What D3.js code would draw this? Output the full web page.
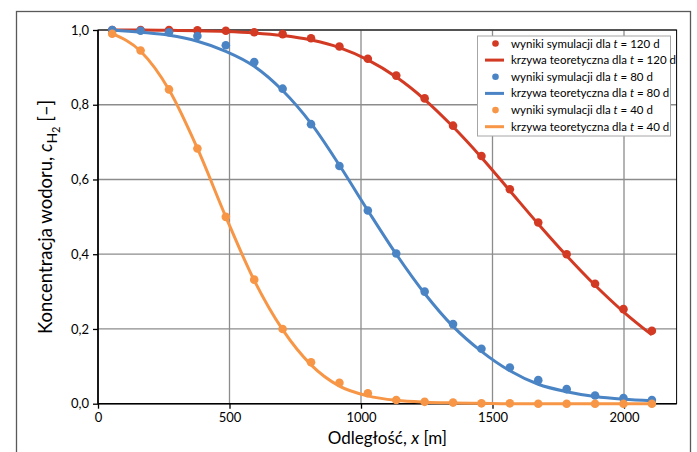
<!DOCTYPE html>
<html>
<head>
<meta charset="utf-8">
<script src="https://cdn.jsdelivr.net/npm/d3@7"></script>
<style>
  body { margin: 0; background: #fff; }
  svg { display: block; font-family: Lato, "Open Sans", sans-serif; }
</style>
</head>
<body>
<div id="chart"></div>
<script>
// distance of the cell centres [m]
var xPos = [54, 162, 270, 378, 486, 594, 702, 810, 918, 1026,
            1134, 1242, 1350, 1458, 1566, 1674, 1782, 1890, 1998, 2106];

// t = 120 d
var sim120 = [1.000, 1.000, 1.000, 0.999, 0.998, 0.994, 0.989, 0.978, 0.956, 0.923,
              0.878, 0.817, 0.744, 0.663, 0.574, 0.485, 0.400, 0.321, 0.253, 0.195];
var theo120 = [1.000, 1.000, 0.999, 0.998, 0.996, 0.992, 0.985, 0.973, 0.953, 0.920,
               0.874, 0.814, 0.741, 0.659, 0.570, 0.481, 0.396, 0.317, 0.246, 0.184];
// t = 80 d
var sim80 = [1.000, 0.998, 0.994, 0.984, 0.959, 0.914, 0.843, 0.748, 0.636, 0.517,
             0.402, 0.300, 0.213, 0.147, 0.097, 0.063, 0.039, 0.022, 0.015, 0.010];
var theo80 = [1.000, 0.994, 0.986, 0.970, 0.943, 0.903, 0.838, 0.750, 0.638, 0.517,
              0.400, 0.295, 0.207, 0.140, 0.088, 0.052, 0.032, 0.019, 0.012, 0.008];
// t = 40 d
var sim40 = [0.990, 0.945, 0.841, 0.683, 0.500, 0.332, 0.200, 0.111, 0.056, 0.028,
             0.010, 0.005, 0.003, 0.001, 0.001, 0.000, 0.000, 0.000, 0.000, 0.000];
var theo40 = [0.990, 0.943, 0.840, 0.683, 0.500, 0.330, 0.198, 0.104, 0.047, 0.021,
              0.009, 0.004, 0.002, 0.001, 0.000, 0.000, 0.000, 0.000, 0.000, 0.000];

var xTicks = [0, 500, 1000, 1500, 2000];
var yTicks = [0, 0.2, 0.4, 0.6, 0.8, 1.0];
var times = ['120', '80', '40'];
var colors = ['#d33a24', '#4a84c4', '#f79646'];

var width = 697, height = 452;
var margin = { left: 98, top: 30, right: 20.4, bottom: 48.3 };

var svg = d3.select('#chart').append('svg')
  .attr('width', width)
  .attr('height', height);

// outer frame of the chart area
svg.append('rect')
  .attr('x', 16.5).attr('y', 11.5)
  .attr('width', 674).attr('height', 460)
  .attr('fill', 'none')
  .attr('stroke', '#595959')
  .attr('stroke-width', 1.3);

var x = d3.scaleLinear().domain([0, 2200]).range([margin.left, width - margin.right]);
var y = d3.scaleLinear().domain([0, 1]).range([height - margin.bottom, margin.top]);

var g = svg.append('g');

// grid
g.append('g').selectAll('line').data(xTicks.slice(1)).enter().append('line')
  .attr('x1', function (d) { return x(d); }).attr('x2', function (d) { return x(d); })
  .attr('y1', y(0)).attr('y2', y(1))
  .attr('stroke', '#8c8c8c').attr('stroke-width', 1.3);
g.append('g').selectAll('line').data(yTicks.slice(1)).enter().append('line')
  .attr('x1', x(0)).attr('x2', x(2200))
  .attr('y1', function (d) { return y(d); }).attr('y2', function (d) { return y(d); })
  .attr('stroke', '#8c8c8c').attr('stroke-width', 1.3);

// plot box
g.append('rect')
  .attr('x', x(0)).attr('y', y(1))
  .attr('width', x(2200) - x(0)).attr('height', y(0) - y(1))
  .attr('fill', 'none').attr('stroke', '#000').attr('stroke-width', 1);

// axes
var fmt = function (d) { return d3.format('.1f')(d).replace('.', ','); };
var xAxis = g.append('g')
  .attr('transform', 'translate(0,' + y(0) + ')')
  .call(d3.axisBottom(x).tickValues(xTicks).tickSize(5).tickPadding(4).tickFormat(d3.format('d')));
var yAxis = g.append('g')
  .attr('transform', 'translate(' + x(0) + ',0)')
  .call(d3.axisLeft(y).tickValues(yTicks).tickSize(5).tickPadding(4).tickFormat(fmt));
[xAxis, yAxis].forEach(function (a) {
  a.select('.domain').attr('stroke', '#000').attr('stroke-width', 1.6);
  a.selectAll('.tick line').attr('stroke', '#000').attr('stroke-width', 1.3);
  a.selectAll('.tick text').attr('fill', '#000').style('font-size', '13px')
    .style('font-family', 'Lato, sans-serif');
});
yAxis.select('.domain').attr('d', 'M' + 0 + ',' + y(0) + 'V' + y(1));
xAxis.select('.domain').attr('d', 'M' + x(0) + ',0H' + x(2200));

// series
var simData = [sim120, sim80, sim40];
var theoData = [theo120, theo80, theo40];
var line = d3.line()
  .x(function (d) { return x(d[0]); })
  .y(function (d) { return y(d[1]); })
  .curve(d3.curveMonotoneX);

times.forEach(function (t, i) {
  var pts = xPos.map(function (xv, j) { return [xv, simData[i][j]]; });
  var cur = xPos.map(function (xv, j) { return [xv, theoData[i][j]]; });
  g.append('g').selectAll('circle').data(pts).enter().append('circle')
    .attr('cx', function (d) { return x(d[0]); })
    .attr('cy', function (d) { return y(d[1]); })
    .attr('r', 4.3)
    .attr('fill', colors[i]);
  g.append('path').datum(cur)
    .attr('d', line)
    .attr('fill', 'none')
    .attr('stroke', colors[i])
    .attr('stroke-width', 3);
});

// axis titles
svg.append('text')
  .attr('x', (x(0) + x(2200)) / 2).attr('y', 444)
  .attr('text-anchor', 'middle')
  .style('font-size', '17px')
  .html('Odległość, <tspan font-style="italic">x</tspan> [m]');

var yt = svg.append('text')
  .attr('transform', 'translate(52,' + ((y(0) + y(1)) / 2) + ') rotate(-90)')
  .attr('text-anchor', 'middle')
  .style('font-size', '18.5px');
yt.append('tspan').text('Koncentracja wodoru, ');
yt.append('tspan').attr('font-style', 'italic').text('c');
yt.append('tspan').attr('dy', 5).style('font-size', '14px').text('H');
yt.append('tspan').attr('dy', 3).style('font-size', '11px').text('2');
yt.append('tspan').attr('dy', -8).text(' [–]');

// legend
var lg = svg.append('g');
lg.append('rect')
  .attr('x', 477.5).attr('y', 36)
  .attr('width', 193).attr('height', 100)
  .attr('fill', '#fff').attr('stroke', '#a6a6a6').attr('stroke-width', 1);

times.forEach(function (t, i) {
  var y1 = 43.5 + i * 33.3, y2 = y1 + 16.6;
  lg.append('circle').attr('cx', 495.5).attr('cy', y1).attr('r', 3.3).attr('fill', colors[i]);
  lg.append('line').attr('x1', 485).attr('x2', 504).attr('y1', y2).attr('y2', y2)
    .attr('stroke', colors[i]).attr('stroke-width', 3);
  lg.append('text').attr('x', 511).attr('y', y1 + 4).style('font-size', '11.5px')
    .html('wyniki symulacji dla <tspan font-style="italic">t</tspan> = ' + t + ' d');
  lg.append('text').attr('x', 511).attr('y', y2 + 4).style('font-size', '11.5px')
    .html('krzywa teoretyczna dla <tspan font-style="italic">t</tspan> = ' + t + ' d');
});
</script>
</body>
</html>
